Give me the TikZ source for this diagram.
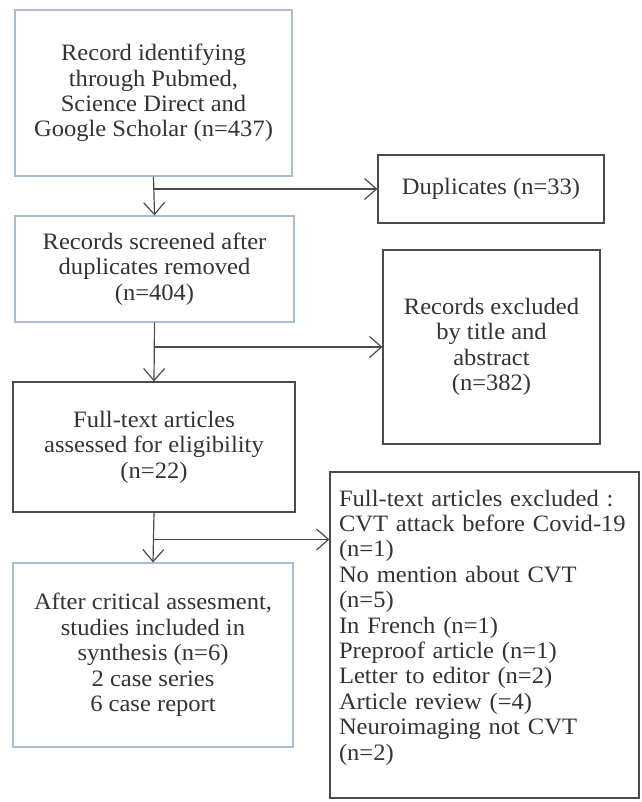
\documentclass[tikz,border=0pt]{standalone}
\usepackage{fontspec}
\setmainfont[FakeStretch=1.045]{Liberation Serif}
\usepackage{xcolor}
\usepackage{tikz}
\usetikzlibrary{arrows.meta,positioning,calc}
\definecolor{boxgray}{HTML}{4A4A4A}
\definecolor{boxblue}{HTML}{A9BCD3}
\definecolor{textgray}{HTML}{333333}
\tikzset{
  block/.style={draw=boxgray, line width=1.2pt, align=center, inner sep=2pt, text=textgray,
    font=\fontsize{23.5}{25.4}\selectfont},
  bblue/.style={block, draw=boxblue},
  listblock/.style={block, align=left, inner xsep=9pt, text width=291pt},
  arrow/.style={-{Straight Barb[length=12pt,width=21pt,line width=1.2pt]}, line width=1.2pt, draw=boxgray}
}
\begin{document}
\begin{tikzpicture}[x=1pt,y=-1pt]
  \useasboundingbox (0,0) rectangle (641,802);

  \node[bblue, minimum width=277pt, minimum height=166pt] (ident) at (153.5,93) {Record identifying\\through Pubmed,\\Science Direct and\\Google Scholar (n=437)};
  \node[block, minimum width=226pt, minimum height=68pt] (dup) at (491,189) {Duplicates (n=33)};
  \node[bblue, minimum width=279pt, minimum height=106pt] (screen) at (154.5,269) {Records screened after\\duplicates removed\\(n=404)};
  \node[block, minimum width=217pt, minimum height=194pt] (title) at (491.5,347) {Records excluded\\by title and\\abstract\\(n=382)};
  \node[block, minimum width=282pt, minimum height=130pt] (full) at (154,447) {Full-text articles\\assessed for eligibility\\(n=22)};
  \node[listblock, minimum height=326pt] (excl) at (484.5,635) {Full-text articles excluded :\\CVT attack before Covid-19\\(n=1)\\No mention about CVT\\(n=5)\\In French (n=1)\\Preproof article (n=1)\\Letter to editor (n=2)\\Article review (=4)\\Neuroimaging not CVT\\(n=2)\rule[-20pt]{0pt}{0pt}};
  \node[bblue, minimum width=280pt, minimum height=184pt] (incl) at (153,655) {After critical assesment,\\studies included in\\synthesis (n=6)\\2 case series\\6 case report};

  \coordinate (split) at ($(full.south)!0.54!(incl.north)$);

  \draw[arrow] (ident.south) -- (screen.north);
  \draw[arrow] (dup.west -| ident.south) -- (dup.west);
  \draw[arrow] (screen.south) -- (full.north);
  \draw[arrow] (title.west -| screen.south) -- (title.west);
  \draw[arrow] (full.south) -- (incl.north);
  \draw[arrow] (split) -- (split -| excl.west);
\end{tikzpicture}
\end{document}
